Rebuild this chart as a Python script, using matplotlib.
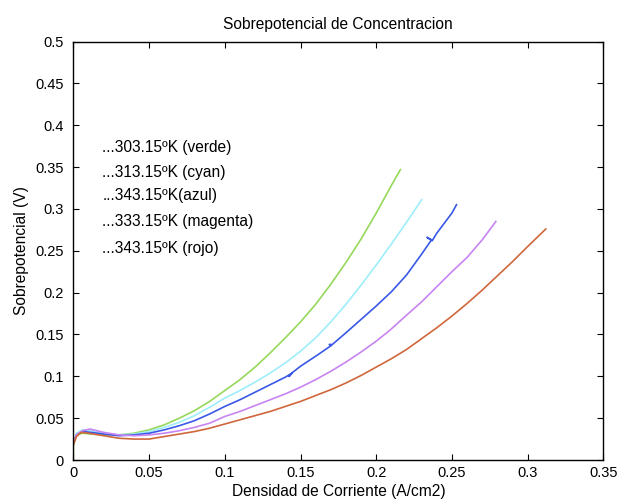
import matplotlib
matplotlib.use("Agg")
import matplotlib.pyplot as plt

plt.rcParams['font.family'] = ['Liberation Sans', 'DejaVu Sans']

# Curvas (densidad de corriente A/cm2, sobrepotencial V)
x_verde = [0.000, 0.000, 0.002, 0.006, 0.012, 0.020, 0.030, 0.040, 0.050, 0.060, 0.070, 0.080, 0.090,
           0.100, 0.110, 0.120, 0.130, 0.140, 0.150, 0.160, 0.170, 0.180, 0.190, 0.200, 0.210, 0.216]
y_verde = [0.000, 0.018, 0.030, 0.032, 0.031, 0.030, 0.030, 0.032, 0.036, 0.042, 0.050, 0.059, 0.070,
           0.083, 0.096, 0.111, 0.128, 0.146, 0.165, 0.186, 0.210, 0.236, 0.264, 0.295, 0.328, 0.347]

x_cyan = [0.000, 0.002, 0.006, 0.012, 0.020, 0.030, 0.040, 0.050, 0.060, 0.070, 0.080, 0.090,
          0.100, 0.110, 0.120, 0.130, 0.140, 0.150, 0.160, 0.170, 0.180, 0.190, 0.200, 0.210,
          0.220, 0.230]
y_cyan = [0.020, 0.032, 0.036, 0.035, 0.032, 0.030, 0.031, 0.034, 0.039, 0.045, 0.053, 0.063,
          0.074, 0.083, 0.093, 0.104, 0.116, 0.130, 0.146, 0.165, 0.186, 0.209, 0.233, 0.258,
          0.284, 0.311]

x_azul = [0.000, 0.002, 0.006, 0.012, 0.020, 0.030, 0.040, 0.050, 0.060, 0.070, 0.080, 0.090,
          0.100, 0.110, 0.120, 0.130, 0.140, 0.1445, 0.1425, 0.1450, 0.150, 0.160, 0.1705,
          0.1690, 0.1710, 0.180, 0.190, 0.200, 0.210, 0.220, 0.230, 0.2365, 0.2335, 0.2370,
          0.240, 0.250, 0.253]
y_azul = [0.020, 0.030, 0.034, 0.033, 0.031, 0.029, 0.030, 0.032, 0.036, 0.041, 0.047, 0.055,
          0.064, 0.072, 0.081, 0.090, 0.099, 0.104, 0.100, 0.105, 0.112, 0.124, 0.137,
          0.138, 0.138, 0.152, 0.168, 0.184, 0.201, 0.221, 0.246, 0.263, 0.266, 0.262,
          0.271, 0.295, 0.305]

x_magenta = [0.000, 0.002, 0.006, 0.011, 0.020, 0.030, 0.040, 0.050, 0.060, 0.070, 0.080, 0.090,
             0.100, 0.110, 0.120, 0.130, 0.140, 0.150, 0.160, 0.170, 0.180, 0.190, 0.200, 0.209,
             0.220, 0.230, 0.240, 0.250, 0.260, 0.270, 0.279]
y_magenta = [0.020, 0.030, 0.035, 0.037, 0.033, 0.030, 0.029, 0.030, 0.032, 0.035, 0.039, 0.044,
             0.052, 0.058, 0.065, 0.072, 0.079, 0.087, 0.096, 0.106, 0.117, 0.129, 0.142, 0.155,
             0.173, 0.189, 0.207, 0.225, 0.242, 0.263, 0.285]

x_rojo = [0.000, 0.002, 0.005, 0.010, 0.020, 0.030, 0.040, 0.050, 0.060, 0.070, 0.080, 0.090,
          0.100, 0.110, 0.120, 0.130, 0.140, 0.150, 0.160, 0.170, 0.180, 0.190, 0.200, 0.210,
          0.220, 0.230, 0.240, 0.250, 0.260, 0.270, 0.280, 0.290, 0.300, 0.312]
y_rojo = [0.018, 0.028, 0.033, 0.032, 0.029, 0.026, 0.025, 0.025, 0.028, 0.031, 0.034, 0.038,
          0.043, 0.048, 0.053, 0.058, 0.064, 0.070, 0.077, 0.084, 0.092, 0.101, 0.111, 0.121,
          0.132, 0.145, 0.158, 0.172, 0.187, 0.203, 0.220, 0.237, 0.255, 0.276]

etiquetas = ['...303.15ºK (verde)', '...313.15ºK (cyan)', '...343.15ºK(azul)',
             '...333.15ºK (magenta)', '...343.15ºK (rojo)']
etiqueta_y = [0.373, 0.344, 0.316, 0.285, 0.253]

fig = plt.figure(figsize=(6.22, 5.0), dpi=100)
ax = fig.add_axes([0.118, 0.08, 0.852, 0.837])

ax.plot(x_verde, y_verde, color='#96d85a', lw=1.2)
ax.plot(x_cyan, y_cyan, color='#9eeefa', lw=1.2)
ax.plot(x_azul, y_azul, color='#3a58e6', lw=1.2)
ax.plot(x_magenta, y_magenta, color='#c884f0', lw=1.2)
ax.plot(x_rojo, y_rojo, color='#d0673c', lw=1.2)

for txt, yy in zip(etiquetas, etiqueta_y):
    ax.text(0.019, yy, txt, fontsize=11.2, va='center', ha='left')

ax.set_xlim(0, 0.35)
ax.set_ylim(0, 0.5)
ax.set_xticks([0, 0.05, 0.1, 0.15, 0.2, 0.25, 0.3, 0.35])
ax.set_xticklabels(['0', '0.05', '0.1', '0.15', '0.2', '0.25', '0.3', '0.35'])
ax.set_yticks([0, 0.05, 0.1, 0.15, 0.2, 0.25, 0.3, 0.35, 0.4, 0.45, 0.5])
ax.set_yticklabels(['0', '0.05', '0.1', '0.15', '0.2', '0.25', '0.3', '0.35', '0.4', '0.45', '0.5'])
ax.tick_params(direction='in', top=True, right=True, labelsize=10.5, length=4, width=0.8)
ax.tick_params(axis='y', pad=7)
ax.tick_params(axis='x', pad=4)
for s in ax.spines.values():
    s.set_linewidth(1.0)

ax.set_title('Sobrepotencial de Concentracion', fontsize=11.2, pad=9)
ax.set_xlabel('Densidad de Corriente (A/cm2)', fontsize=11.2, labelpad=3)
ax.set_ylabel('Sobrepotencial (V)', fontsize=11.2, labelpad=4)

fig.savefig('out.png', dpi=100)
